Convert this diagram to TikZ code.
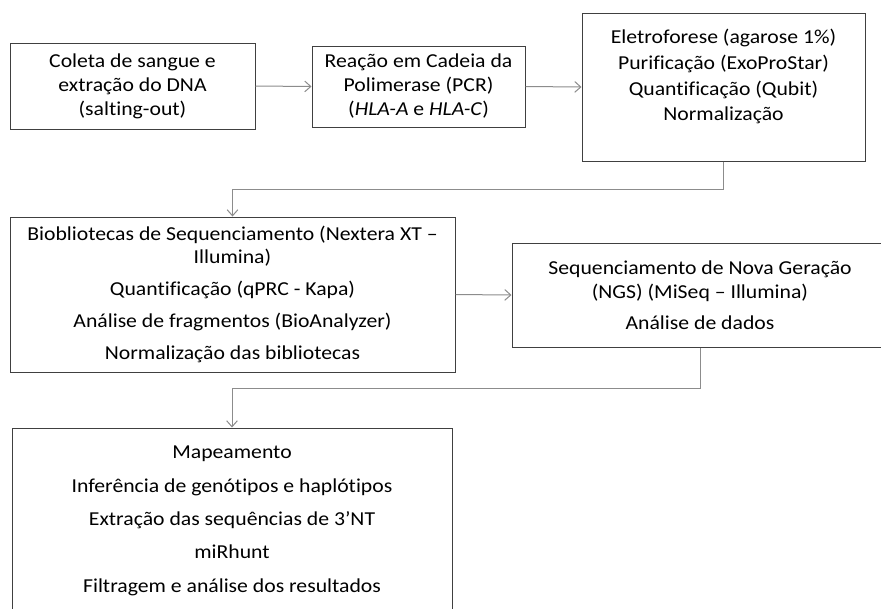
\documentclass[tikz,border=0pt]{standalone}
\usepackage{fontspec}
\setmainfont{Carlito}[FakeStretch=1.1, Ligatures=NoCommon]
\usetikzlibrary{arrows.meta}

\begin{document}
\begin{tikzpicture}[x=0.75pt, y=-0.75pt,
    caixa/.style={draw=black!75, line width=0.75pt, inner sep=0pt, align=center,
        font=\fontsize{14.8}{18}\selectfont},
    seta/.style={draw=black!45, line width=0.75pt, -{Straight Barb[length=4.5pt, width=8pt]}}]
    % area da figura
    \clip (0, 0) rectangle (881, 608);
    \fill[white] (0, 0) rectangle (881, 608);

    % primeira linha de caixas
    \node[caixa, minimum width=245*0.75pt, minimum height=86*0.75pt] (coleta) at (132.5, 86)
        {Coleta de sangue e\\ extração do DNA\\ (salting-out)};
    \node[caixa, minimum width=213*0.75pt, minimum height=81*0.75pt] (pcr) at (418.5, 86.5)
        {Reação em Cadeia da\\ Polimerase (PCR)\\ (\textit{HLA-A} e \textit{HLA-C})};
    \node[caixa, minimum width=283*0.75pt, minimum height=148*0.75pt] (eletro) at (723.5, 87)
        {Eletroforese (agarose 1\%)\\[1.2pt] Purificação (ExoProStar)\\[1.2pt]
         Quantificação (Qubit)\\[1.2pt] Normalização\\ \mbox{}};

    % segunda linha
    \node[caixa, minimum width=445*0.75pt, minimum height=155*0.75pt] (biblio) at (232.5, 294.5)
        {Biobliotecas de Sequenciamento (Nextera XT –\\[-1pt] Illumina)\\[6pt]
         Quantificação (qPRC - Kapa)\\[6pt] Análise de fragmentos (BioAnalyzer)\\[6pt]
         Normalização das bibliotecas};
    \node[caixa, minimum width=376*0.75pt, minimum height=104*0.75pt] (ngs) at (700, 295)
        {Sequenciamento de Nova Geração\\ (NGS) (MiSeq – Illumina)\\[5pt]
         Análise de dados};

    % terceira linha
    \node[caixa, minimum width=440*0.75pt, minimum height=186*0.75pt] (mapa) at (232, 521)
        {Mapeamento\\[7pt] Inferência de genótipos e haplótipos\\[7pt]
         Extração das sequências de 3’NT\\[7pt] miRhunt\\[7pt]
         Filtragem e análise dos resultados};

    % ligacoes
    \draw[seta] (coleta.east) -- (pcr.west);
    \draw[seta] (pcr.east) -- (eletro.west);
    \draw[seta] (eletro.south) -- ++(0, 28) -| (biblio.north);
    \draw[seta] (biblio.east) -- (ngs.west);
    \draw[seta] (ngs.south) -- ++(0, 41) -| (mapa.north);
\end{tikzpicture}
\end{document}
